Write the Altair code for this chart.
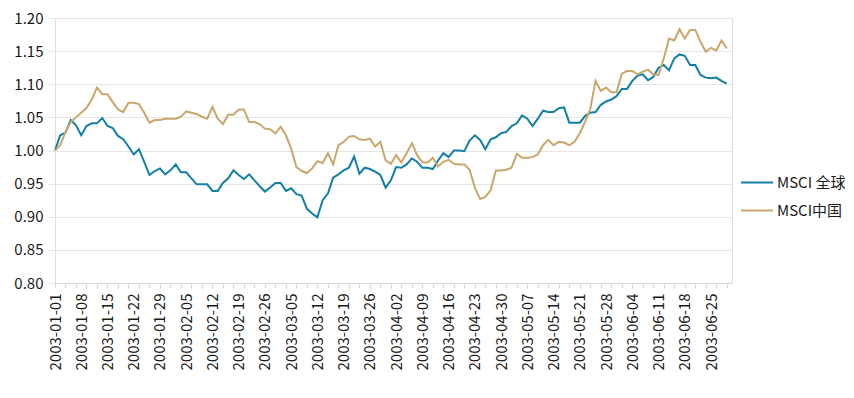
import json
import altair as alt
import pandas as pd

series_names = ["MSCI 全球", "MSCI中国"]
colors = ["#127fa6", "#c9a76b"]

msci_world = [
    1.000, 1.023, 1.027, 1.046, 1.038, 1.023, 1.037, 1.041, 1.041, 1.049,
    1.037, 1.034, 1.022, 1.017, 1.006, 0.994, 1.002, 0.983, 0.963, 0.969,
    0.973, 0.964, 0.970, 0.979, 0.967, 0.967, 0.958, 0.949, 0.949, 0.949,
    0.939, 0.939, 0.951, 0.958, 0.970, 0.963, 0.957, 0.964, 0.955, 0.946,
    0.938, 0.944, 0.951, 0.951, 0.939, 0.943, 0.934, 0.932, 0.912, 0.905,
    0.899, 0.925, 0.935, 0.959, 0.964, 0.970, 0.974, 0.991, 0.965, 0.974,
    0.972, 0.968, 0.963, 0.944, 0.955, 0.975, 0.974, 0.979, 0.988, 0.983,
    0.974, 0.974, 0.972, 0.985, 0.996, 0.990, 1.000, 1.000, 0.999, 1.015,
    1.023, 1.016, 1.002, 1.017, 1.020, 1.026, 1.028, 1.037, 1.041, 1.053,
    1.048, 1.037, 1.048, 1.060, 1.058, 1.058, 1.064, 1.065, 1.042, 1.042,
    1.042, 1.052, 1.057, 1.058, 1.069, 1.074, 1.077, 1.082, 1.093, 1.093,
    1.105, 1.113, 1.115, 1.106, 1.111, 1.125, 1.129, 1.121, 1.139, 1.145,
    1.143, 1.129, 1.129, 1.114, 1.110, 1.109, 1.110, 1.105, 1.101,
]

msci_china = [
    1.000, 1.008, 1.028, 1.043, 1.050, 1.057, 1.064, 1.077, 1.095, 1.085,
    1.085, 1.073, 1.062, 1.058, 1.072, 1.072, 1.070, 1.057, 1.042, 1.046,
    1.046, 1.048, 1.048, 1.048, 1.051, 1.059, 1.057, 1.055, 1.051, 1.048,
    1.066, 1.048, 1.040, 1.054, 1.054, 1.062, 1.062, 1.043, 1.043, 1.040,
    1.033, 1.032, 1.026, 1.036, 1.023, 1.003, 0.975, 0.969, 0.966, 0.973,
    0.984, 0.981, 0.996, 0.979, 1.008, 1.013, 1.021, 1.022, 1.017, 1.016,
    1.018, 1.006, 1.013, 0.985, 0.980, 0.993, 0.982, 0.996, 1.011, 0.993,
    0.982, 0.982, 0.989, 0.976, 0.983, 0.986, 0.980, 0.979, 0.979, 0.971,
    0.944, 0.927, 0.930, 0.940, 0.970, 0.970, 0.971, 0.974, 0.995, 0.989,
    0.989, 0.990, 0.994, 1.008, 1.016, 1.008, 1.013, 1.012, 1.008, 1.013,
    1.026, 1.043, 1.063, 1.105, 1.090, 1.095, 1.088, 1.088, 1.116, 1.120,
    1.120, 1.115, 1.119, 1.122, 1.115, 1.114, 1.139, 1.169, 1.166, 1.183,
    1.169, 1.182, 1.182, 1.164, 1.149, 1.155, 1.151, 1.166, 1.154,
]

tick_labels = [
    "2003-01-01", "2003-01-08", "2003-01-15", "2003-01-22", "2003-01-29",
    "2003-02-05", "2003-02-12", "2003-02-19", "2003-02-26", "2003-03-05",
    "2003-03-12", "2003-03-19", "2003-03-26", "2003-04-02", "2003-04-09",
    "2003-04-16", "2003-04-23", "2003-04-30", "2003-05-07", "2003-05-14",
    "2003-05-21", "2003-05-28", "2003-06-04", "2003-06-11", "2003-06-18",
    "2003-06-25",
]

y_ticks = [0.80, 0.85, 0.90, 0.95, 1.00, 1.05, 1.10, 1.15, 1.20]

n = len(msci_world)
rows = []
for i in range(n):
    rows.append({"idx": i, "series": series_names[0], "value": msci_world[i]})
    rows.append({"idx": i, "series": series_names[1], "value": msci_china[i]})
df = pd.DataFrame(rows)

FONT = "Noto Sans CJK SC"
label_expr = "datum.value % 5 == 0 ? " + json.dumps(tick_labels) + "[datum.value / 5] : ''"

chart = alt.Chart(df).mark_line(strokeWidth=2).encode(
    x=alt.X(
        "idx:Q",
        scale=alt.Scale(domain=[0, 129], nice=False, zero=False),
        axis=alt.Axis(
            title=None,
            values=list(range(0, n)),
            labelExpr=label_expr,
            labelAngle=270,
            labelAlign="right",
            labelBaseline="middle",
            labelOverlap=False,
            labelFlush=False,
            labelFontSize=15,
            labelFont=FONT,
            labelColor="#1a1a1a",
            labelPadding=5,
            tickSize=5,
            tickColor={"condition": {"test": "datum.value % 2 == 0", "value": "#d9d9d9"}, "value": "transparent"},
            domainColor="#d9d9d9",
            grid=False,
        ),
    ),
    y=alt.Y(
        "value:Q",
        scale=alt.Scale(domain=[0.8, 1.2], nice=False, zero=False),
        axis=alt.Axis(
            title=None,
            values=y_ticks,
            format=".2f",
            labelFontSize=15,
            labelFont=FONT,
            labelColor="#1a1a1a",
            labelPadding=5,
            tickSize=7,
            tickColor="#e5e5e5",
            gridColor="#e5e5e5",
            domainColor="#e0e0e0",
        ),
    ),
    color=alt.Color(
        "series:N",
        scale=alt.Scale(domain=series_names, range=colors),
        sort=series_names,
        legend=alt.Legend(
            title=None,
            orient="none",
            legendX=685,
            legendY=157,
            symbolType="stroke",
            symbolSize=1024,
            symbolStrokeWidth=2,
            labelFontSize=15,
            labelFont=FONT,
            labelColor="#1a1a1a",
            labelOffset=3,
            clipHeight=15,
            rowPadding=12,
            padding=0,
        ),
    ),
).properties(
    width=677,
    height=265,
    autosize=alt.AutoSizeParams(type="none"),
    padding={"left": 47, "top": 10, "right": 114, "bottom": 107},
).configure_view(stroke=None).configure(background="white")

chart.save("out.html", embed_options={"renderer": "svg", "actions": False})
